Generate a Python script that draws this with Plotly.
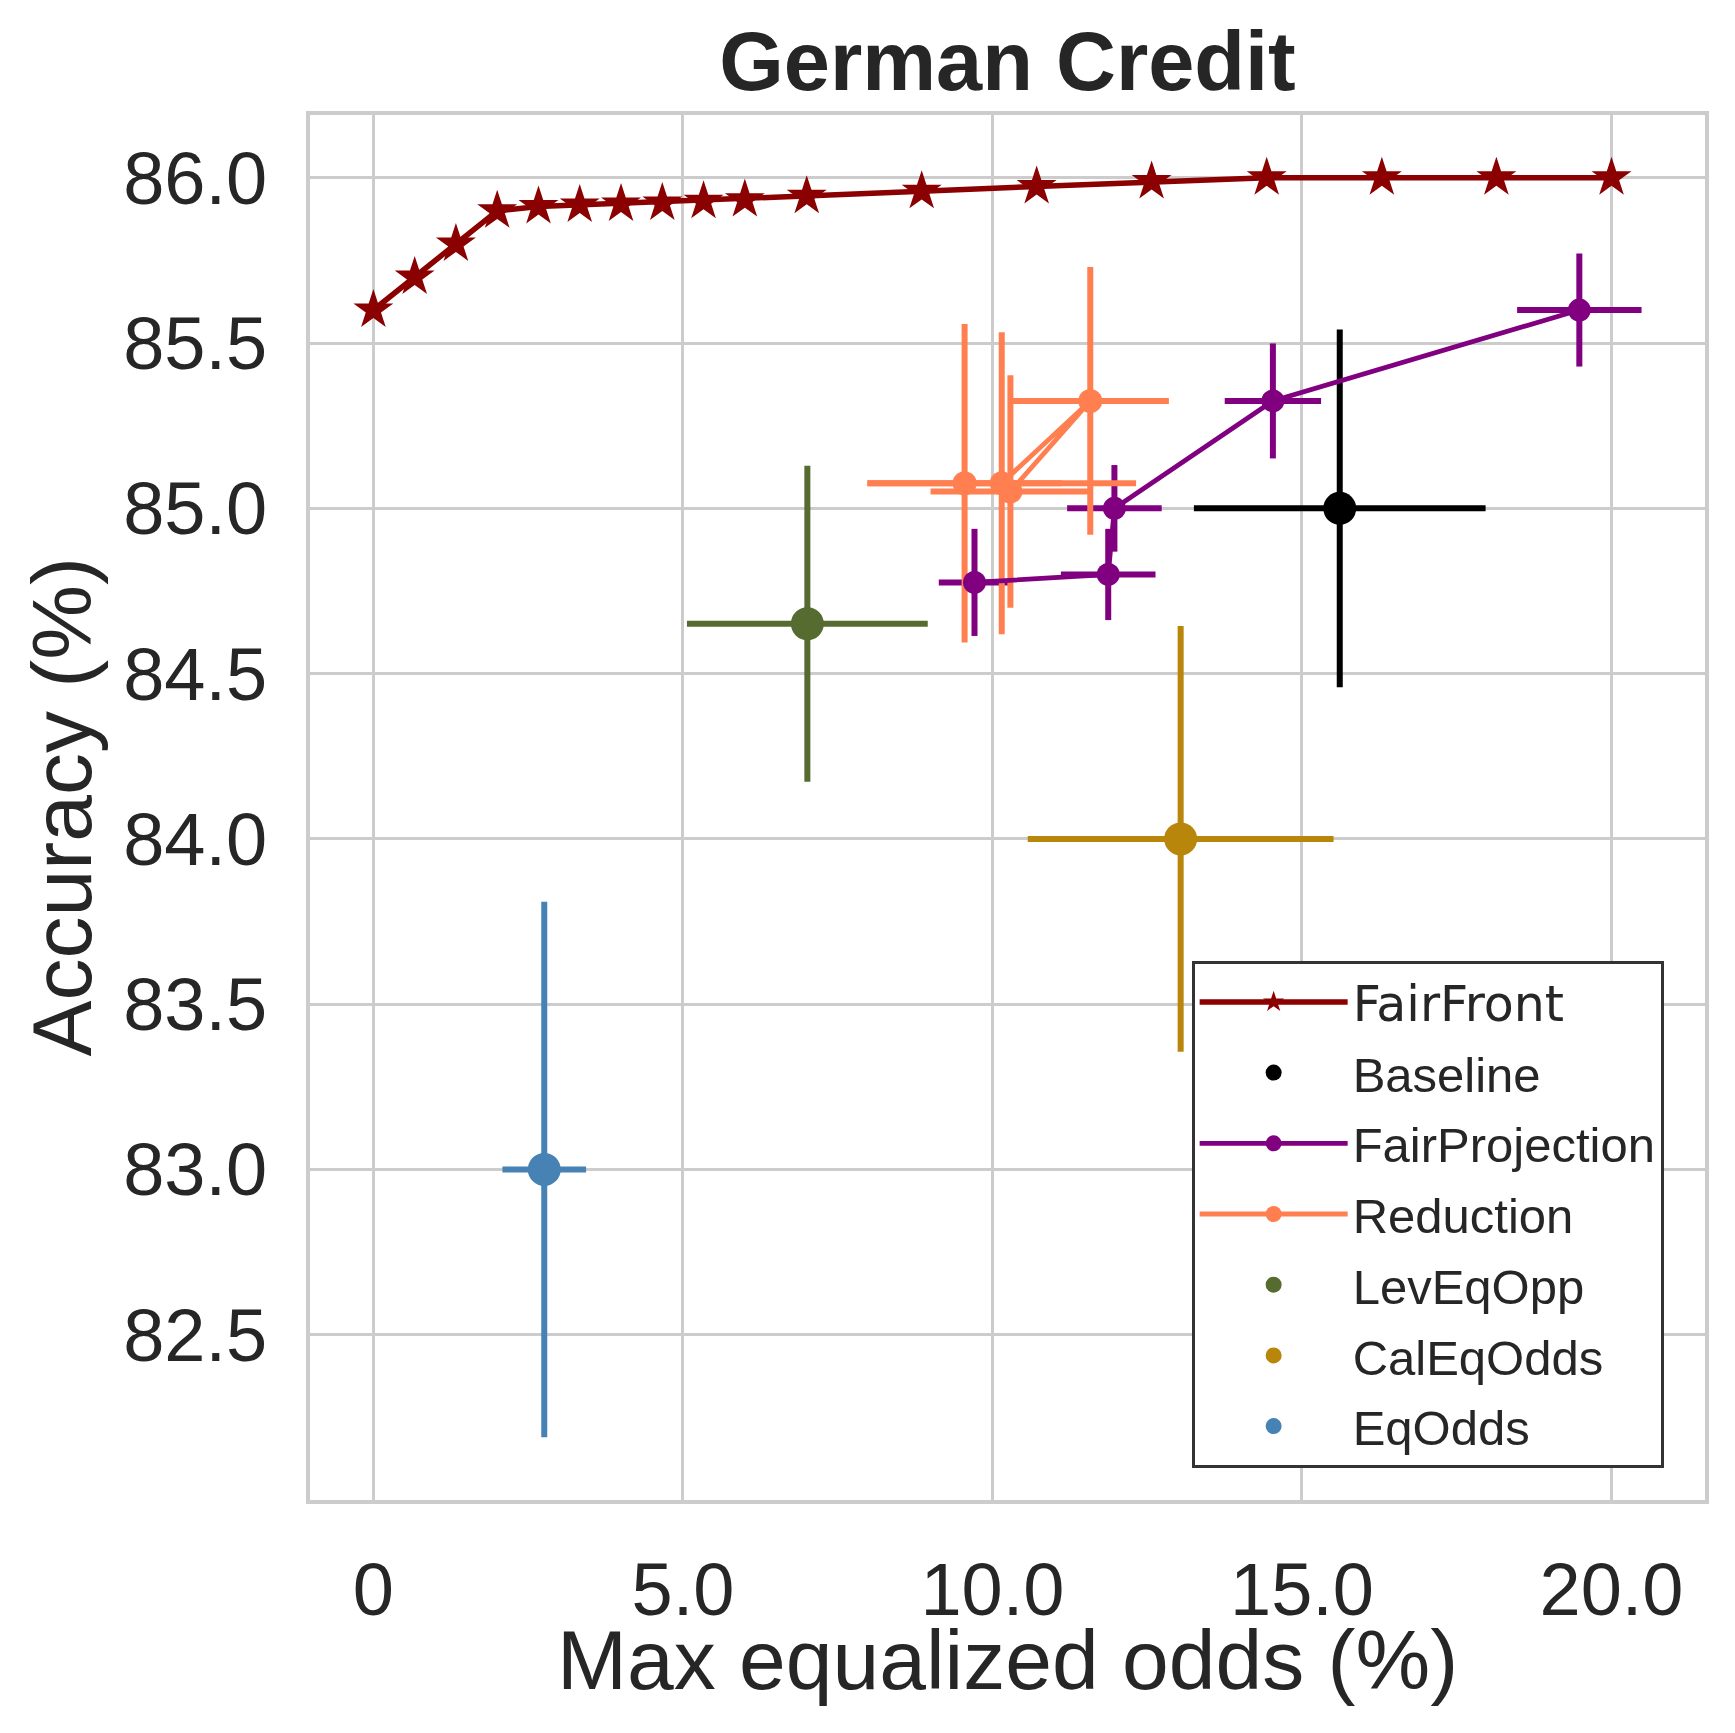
import plotly.graph_objects as go

# ---------------- data ----------------
ff_x = [0.0, 0.667, 1.333, 2.0, 2.667, 3.333, 4.0, 4.667, 5.333, 6.0, 7.0,
        8.857, 10.714, 12.571, 14.43, 16.29, 18.14, 20.0]
ff_y = [85.60, 85.70, 85.80, 85.90, 85.913, 85.918, 85.921, 85.924, 85.929, 85.934, 85.944,
        85.959, 85.974, 85.989, 86.0, 86.0, 86.0, 86.0]

base_x = [15.61]
base_y = [85.0]
base_xerr = [2.356]
base_yerr = [0.541]

fp_x = [9.71, 11.87, 11.97, 14.53, 19.48]
fp_y = [84.776, 84.80, 85.0, 85.325, 85.60]
fp_xerr = [0.577, 0.764, 0.764, 0.778, 1.005]
fp_yerr = [0.162, 0.138, 0.131, 0.174, 0.171]

red_x = [9.55, 10.15, 11.58, 10.29]
red_y = [85.076, 85.076, 85.325, 85.051]
red_xerr = [1.57, 2.17, 1.27, 1.29]
red_yerr = [0.482, 0.457, 0.405, 0.352]

lev_x = [7.01]
lev_y = [84.651]
lev_xerr = [1.945]
lev_yerr = [0.478]

cal_x = [13.04]
cal_y = [84.0]
cal_xerr = [2.47]
cal_yerr = [0.644]

eq_x = [2.76]
eq_y = [83.0]
eq_xerr = [0.676]
eq_yerr = [0.81]

x_ticks = [0, 5, 10, 15, 20]
x_ticklabels = ["0", "5.0", "10.0", "15.0", "20.0"]
y_ticks = [82.5, 83.0, 83.5, 84.0, 84.5, 85.0, 85.5, 86.0]
y_ticklabels = ["82.5", "83.0", "83.5", "84.0", "84.5", "85.0", "85.5", "86.0"]

# ---------------- style ----------------
FONT = "Liberation Sans, Arial, sans-serif"
TXT = "#262626"
GRID = "#cccccc"
EB_W = 6

# page body has an 8px margin: the figure is sized so the page fits the window
W, H = 1719, 1717
ML, MT = 302, 107
PW, PH = 1395, 1385

series = [
    # name, x, y, xerr, yerr, color, marker size, mode
    ("Baseline", base_x, base_y, base_xerr, base_yerr, "#000000", 33, "markers"),
    ("FairProjection", fp_x, fp_y, fp_xerr, fp_yerr, "#800080", 23, "lines+markers"),
    ("Reduction", red_x, red_y, red_xerr, red_yerr, "#FF7F50", 24, "lines+markers"),
    ("LevEqOpp", lev_x, lev_y, lev_xerr, lev_yerr, "#556B2F", 33, "markers"),
    ("CalEqOdds", cal_x, cal_y, cal_xerr, cal_yerr, "#B8860B", 33, "markers"),
    ("EqOdds", eq_x, eq_y, eq_xerr, eq_yerr, "#4682B4", 33, "markers"),
]

fig = go.Figure()

# error bars first (drawn beneath all data lines / markers, as in matplotlib)
for name, x, y, xe, ye, col, ms, mode in series:
    fig.add_trace(go.Scatter(
        x=x, y=y, mode="markers",
        marker=dict(size=1, opacity=0),
        error_x=dict(type="data", array=xe, visible=True, color=col, thickness=EB_W, width=0),
        error_y=dict(type="data", array=ye, visible=True, color=col, thickness=EB_W, width=0),
        showlegend=False, hoverinfo="skip",
    ))

# FairFront
fig.add_trace(go.Scatter(
    x=ff_x, y=ff_y, mode="lines+markers",
    name='<span style="font-family:DejaVu Sans">FairFront</span>',
    line=dict(color="#8B0000", width=5.5),
    marker=dict(symbol="star", size=30, color="#8B0000"),
    legendgroup="g0",
))

for i, (name, x, y, xe, ye, col, ms, mode) in enumerate(series):
    fig.add_trace(go.Scatter(
        x=x, y=y, mode=mode, name=name,
        line=dict(color=col, width=4.8),
        marker=dict(symbol="circle", size=ms, color=col),
        legendgroup="g%d" % (i + 1),
    ))

fig.update_layout(
    width=W, height=H,
    margin=dict(l=ML, r=W - ML - PW, t=MT, b=H - MT - PH),
    paper_bgcolor="white", plot_bgcolor="white",
    font=dict(family=FONT, color=TXT),
    title=dict(text="<b>German Credit</b>", x=0.5, xref="paper",
               y=1 - 53 / H, yref="container", yanchor="middle", xanchor="center",
               font=dict(size=83, family=FONT, color=TXT)),
    showlegend=True,
    legend=dict(
        x=0.632, y=0.3895, xanchor="left", yanchor="top",
        bgcolor="white", bordercolor="#333333", borderwidth=3,
        font=dict(size=49, family=FONT, color=TXT),
        itemwidth=148, tracegroupgap=4,
    ),
)

fig.update_xaxes(
    range=[-1.024, 21.51], tickmode="array", tickvals=x_ticks, ticktext=x_ticklabels,
    tickfont=dict(size=74, family=FONT, color=TXT),
    showgrid=True, gridcolor=GRID, gridwidth=3.3, zeroline=False,
    showline=True, linecolor=GRID, linewidth=4, mirror=True,
    ticks="", ticklabelstandoff=22,
)
fig.update_yaxes(
    range=[82.0, 86.19], tickmode="array", tickvals=y_ticks, ticktext=y_ticklabels,
    tickfont=dict(size=74, family=FONT, color=TXT),
    showgrid=True, gridcolor=GRID, gridwidth=3.3, zeroline=False,
    showline=True, linecolor=GRID, linewidth=4, mirror=True,
    ticks="", ticklabelstandoff=24,
)

fig.add_annotation(text="Max equalized odds (%)", xref="paper", yref="paper",
                   x=0.5, y=(1500 - 1660) / PH, xanchor="center", yanchor="middle",
                   showarrow=False, font=dict(size=84, family=FONT, color=TXT))
fig.add_annotation(text="Accuracy (%)", xref="paper", yref="paper",
                   x=(61 - 310) / PW, y=0.5, xanchor="center", yanchor="middle",
                   textangle=-90, showarrow=False, font=dict(size=84, family=FONT, color=TXT))

fig.write_html("out.html")
